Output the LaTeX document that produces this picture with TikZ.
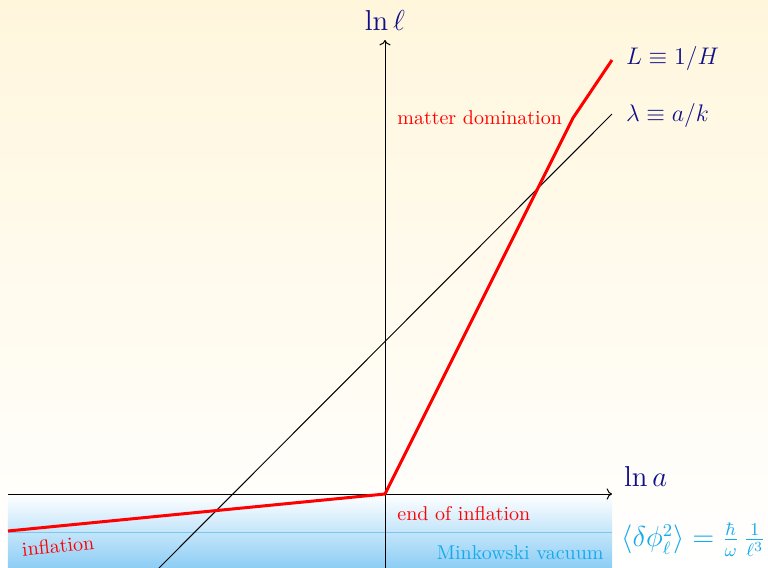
\documentclass[tikz,border=0pt]{standalone}
\usetikzlibrary{arrows.meta, positioning}
\definecolor{BgCream}{RGB}{255,246,220}
\definecolor{VacBlue}{RGB}{140,205,245}
\definecolor{VacLine}{RGB}{120,200,240}
\definecolor{VacText}{RGB}{20,170,235}
\definecolor{AxisNavy}{RGB}{15,15,135}
\tikzset{
    % axes and curves
    axis/.style={
        ->,
        line width=0.5pt,
        draw=black
    },
    hubble/.style={
        line width=1.5pt,
        draw=red,
        line join=round
    },
    wavelength/.style={
        line width=0.5pt,
        draw=black
    },
    % labels
    axislabel/.style={
        text=AxisNavy,
        font=\Large
    },
    curvelabel/.style={
        text=AxisNavy,
        font=\fontsize{13}{15}\selectfont
    },
    phaselabel/.style={
        text=red,
        font=\normalsize,
        inner sep=1pt
    },
    vaclabel/.style={
        text=VacText,
        inner sep=1pt
    }
}
\begin{document}
\begin{tikzpicture}[x=0.5pt,y=-0.5pt]
    \useasboundingbox (0,0) rectangle (768,568);
    \shade[top color=BgCream, bottom color=white] (0,0) rectangle (768,568);

    % Minkowski vacuum band
    \shade[top color=white, bottom color=VacBlue] (8,494) rectangle (612,568);
    \coordinate (vacl) at (8,532);
    \coordinate (vacr) at (612,532);
    \draw[VacLine, line width=0.5pt] (vacl) -- (vacr);

    % axes
    \coordinate (origin) at (385,494);
    \coordinate (xstart) at (8,494);
    \coordinate (xend) at (612,494);
    \coordinate (ystart) at (385,568);
    \coordinate (yend) at (385,40);
    \draw[axis] (xstart) -- (xend);
    \draw[axis] (ystart) -- (yend);
    \node[axislabel] (lnl) at (385,20) {$\ln\ell$};
    \node[axislabel, anchor=west] (lna) at (617,476) {$\ln a$};

    % physical wavelength
    \coordinate (lstart) at (159,568);
    \coordinate (lend) at (612,114);
    \draw[wavelength] (lstart) -- (lend);
    \node[curvelabel, anchor=west] (lambda) at (619,115) {$\lambda\equiv a/k$};

    % Hubble radius
    \coordinate (hstart) at (8,531);
    \coordinate (hbend) at (573,118);
    \coordinate (hend) at (612,60);
    \draw[hubble] (hstart) -- (origin) -- (hbend) -- (hend);
    \node[curvelabel, anchor=west] (hubbleL) at (619,58) {$L\equiv 1/H$};

    % phases
    \node[phaselabel, anchor=west] (matter) at (395,118) {matter domination};
    \node[phaselabel, anchor=west] (endinf) at (395,514) {end of inflation};
    \node[phaselabel, rotate=5.6] (inf) at (58,546) {inflation};

    % vacuum fluctuations
    \node[vaclabel, anchor=east] (mink) at (606,553) {Minkowski vacuum};
    \node[vaclabel, anchor=west, font=\fontsize{13.5}{16}\selectfont] (fluct) at (619,540)
        {$\langle\delta\phi_\ell^2\rangle=\frac{\hbar}{\omega}\,\frac{1}{\ell^3}$};
\end{tikzpicture}
\end{document}
